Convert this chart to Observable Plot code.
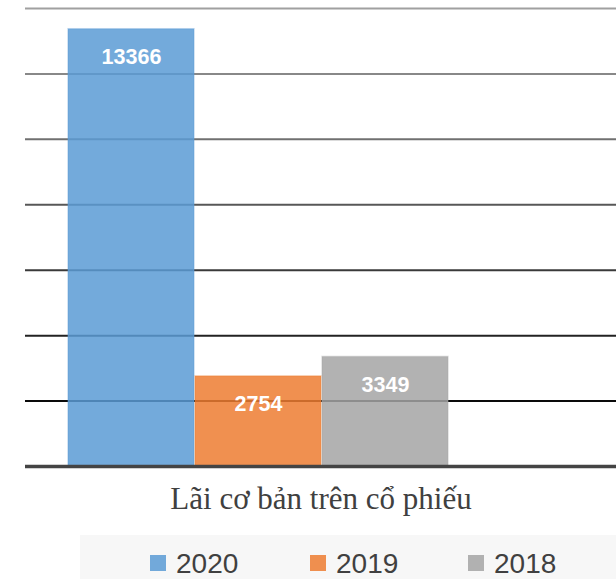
<!DOCTYPE html>
<html>
<head>
<meta charset="utf-8">
<script src="https://cdn.jsdelivr.net/npm/d3@7"></script>
<script src="https://cdn.jsdelivr.net/npm/@observablehq/plot@0.6"></script>
<style>
  html, body { margin: 0; padding: 0; background: #fff; }
  #wrap { width: 616px; height: 579px; position: relative; overflow: hidden; }
  #title { position: absolute; left: 0; width: 642px; top: 481px; text-align: center;
    font-family: "Liberation Serif", "Times New Roman", serif; font-size: 31px; color: #404040; }
  #legend { position: absolute; left: 80px; top: 535px; width: 536px; height: 44px; background: #f7f7f7; }
  .item { position: absolute; top: 11px; font-family: "Liberation Sans", Arial, sans-serif; font-size: 28px; color: #404040; line-height: 36px; }
  .sw { position: absolute; width: 16px; height: 16px; top: 20px; }
</style>
</head>
<body>
<div id="wrap">
  <div id="chart"></div>
  <div id="title"></div>
  <div id="legend"></div>
</div>
<script>
const years = ["2020", "2019", "2018"];
const values = [13366, 2754, 3349];
const colors = ["#5b9bd5", "#ed7d31", "#a5a5a5"];
const gridTicks = [0, 2000, 4000, 6000, 8000, 10000, 12000, 14000];
const titleText = "Lãi cơ bản trên cổ phiếu";

const data = years.map((y, i) => ({year: y, value: values[i], color: colors[i]}));
const gridColor = {0: "#444444", 2000: "#0a0a0a", 4000: "#222222", 6000: "#3a3a3a",
  8000: "#575757", 10000: "#707070", 12000: "#888888", 14000: "#a0a0a0"};
const grid = gridTicks.map(v => ({v, c: gridColor[v]}));

const chart = Plot.plot({
  width: 616,
  height: 471,
  marginTop: 8,
  marginBottom: 5,
  marginLeft: 25,
  marginRight: 0,
  x: {type: "band", domain: years, range: [66.5, 448.5], paddingInner: 0.01, paddingOuter: 0, axis: null},
  y: {domain: [0, 14000], axis: null},
  color: {type: "identity"},
  marks: [
    Plot.ruleY(grid.filter(d => d.v !== 0), {y: "v", stroke: "c", strokeWidth: 2}),
    Plot.barY(data, {x: "year", y: "value", fill: "color", fillOpacity: 0.85,
      stroke: "color", strokeOpacity: 0.35, strokeWidth: 1.5}),
    Plot.ruleY(grid.filter(d => d.v === 0), {y: "v", stroke: "c", strokeWidth: 3.5}),
    Plot.text(data, {x: "year", y: "value", text: d => String(d.value), dy: 28,
      fill: "white", fontSize: 21.5, fontWeight: "bold",
      fontFamily: "Liberation Sans, Arial, sans-serif", lineAnchor: "middle"})
  ]
});
document.getElementById("chart").appendChild(chart);
document.getElementById("title").textContent = titleText;

const legend = document.getElementById("legend");
const lx = [70, 230, 388];
years.forEach((y, i) => {
  const sw = document.createElement("div");
  sw.className = "sw";
  sw.style.left = lx[i] + "px";
  sw.style.background = colors[i];
  sw.style.opacity = 0.85;
  legend.appendChild(sw);
  const t = document.createElement("div");
  t.className = "item";
  t.style.left = (lx[i] + 26) + "px";
  t.textContent = y;
  legend.appendChild(t);
});
</script>
</body>
</html>
